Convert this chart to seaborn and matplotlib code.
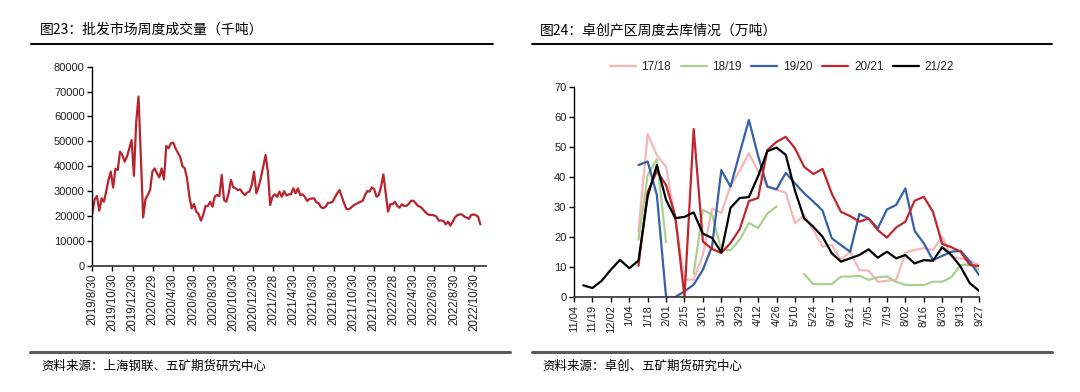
import numpy as np
import pandas as pd
import seaborn as sns
import matplotlib.pyplot as plt
from matplotlib.lines import Line2D

# ---- left chart: weekly wholesale volume (thousand tonnes) ----
start_date = '2019-08-30'
volume = [
    21000, 26700, 28000, 22100, 27100, 25700, 29800, 34500, 37800, 31400,
    38900, 38500, 45800, 44500, 41800, 43800, 47200, 50500, 36100, 57900,
    68000, 44000, 19400, 26700, 28400, 30400, 37800, 39100, 37100, 35500,
    39100, 34700, 48100, 47200, 49200, 49500, 47200, 45400, 43800, 40100,
    39100, 35100, 27800, 23000, 24800, 21700, 20800, 18100, 20400, 24000,
    24000, 25700, 23700, 27800, 28400, 28000, 36500, 26400, 25700, 29100,
    34500, 31500, 31100, 30400, 30700, 29400, 28400, 29400, 29800, 32400,
    37800, 29100, 31800, 35500, 40100, 44500, 37800, 24400, 27700, 28700,
    27700, 29800, 27700, 30000, 28200, 28700, 28700, 31100, 29100, 31100,
    28400, 28700, 27700, 26000, 26800, 27000, 27100, 25500, 25100, 23500,
    23100, 23700, 25300, 25300, 25700, 27500, 29000, 30400, 27700, 25100,
    22800, 22700, 23300, 24200, 24700, 25200, 25700, 26000, 28200, 30000,
    29800, 31500, 30800, 27700, 28400, 31800, 36700, 29100, 21700, 24700,
    24700, 25700, 24100, 23300, 24700, 24000, 24100, 24800, 26100, 26100,
    25100, 24000, 23700, 22800, 21700, 20800, 20400, 20400, 20200, 19700,
    18100, 18200, 18000, 16600, 17700, 16100, 17700, 19400, 20300, 20600,
    20600, 19800, 19300, 18800, 20400, 20600, 20300, 19700, 16600,
]
left_ticks = [
    '2019/8/30', '2019/10/30', '2019/12/30', '2020/2/29', '2020/4/30',
    '2020/6/30', '2020/8/30', '2020/10/30', '2020/12/30', '2021/2/28',
    '2021/4/30', '2021/6/30', '2021/8/30', '2021/10/30', '2021/12/30',
    '2022/2/28', '2022/4/30', '2022/6/30', '2022/8/30', '2022/10/30',
]

# ---- right chart: weekly destocking by season (10k tonnes) ----
week_labels = [
    '11/04', '11/19', '12/02', '1/04', '1/18', '2/01', '2/15', '3/01',
    '3/15', '3/29', '4/12', '4/26', '5/10', '5/24', '6/07', '6/21',
    '7/05', '7/19', '8/02', '8/16', '8/30', '9/13', '9/27',
]
nan = np.nan
s1718 = [nan] * 7 + [22, 54.3, 47.3, 43.4, 26, 5.8, 5.8, 14, 29.5, 28, 37, 42,
                     47.9, 42, 37, 35.7, 34.8, 24.6, 27.3, 22.3, 16.8, 17.3, 12.3,
                     15.1, 9, 8.8, 5.1, 5.4, 5.7, 14.8, 15.7, 16.3, 15.7, 20.1,
                     13.4, 12.9, 12.1, 10.7]
s1819 = [nan] * 7 + [19.1, 40.6, 46, 18.2, nan, nan, 7.8, 29.1, 27.4, 15.8, 15.6,
                     19.1, 24.7, 23, 27.8, 30.2, nan, nan, 7.7, 4.3, 4.3, 4.3, 6.8,
                     6.8, 7.1, 5.7, 6.6, 6.8, 5.1, 4, 4, 4, 5.1, 5.1, 6.6, 10.7,
                     10.7, 9.2]
s1920 = [nan] * 7 + [44, 45.2, 34, 0, 0, 1.9, 4.1, 9.1, 16.9, 42.3, 36.8, 48, 59,
                     47, 36.8, 35.9, 41.4, 37.9, 34.6, 31.8, 28.8, 19.6, 17.3, 15.1,
                     27.7, 26.2, 22.9, 29.2, 30.7, 36.2, 22.1, 17.9, 12.3, 13.7,
                     15.1, 15.4, 11.9, 7.3]
s2021 = [nan] * 7 + [10.4, 35, 42, 37.3, 27, 0, 56, 18.5, 16, 14.7, 18, 22.6, 32,
                     33, 49, 51.7, 53.4, 49.6, 43.4, 41, 42.7, 34.5, 28.4, 27, 25.1,
                     26.2, 22.3, 19.8, 23.2, 25.1, 32.1, 33.4, 28.4, 17.7, 16.6,
                     15.1, 10.7, 10.3]
s2122 = [nan, 3.9, 3.0, 5.4, 9.1, 12.4, 9.6, 12.1, 33.5, 44, 32.4, 26.3, 26.7,
         28.2, 21.1, 19.7, 14.9, 29.7, 33, 33.3, 40.3, 48.6, 49.8, 47.4, 35.5,
         26.2, 23.4, 20.1, 14.6, 11.8, 12.9, 14, 15.9, 13.1, 15.1, 12.9, 14,
         11.2, 12.3, 12.1, 16.6, 14, 10.1, 4.6, 2.1]
season_names = ['17/18', '18/19', '19/20', '20/21', '21/22']
season_colors = ['#F4B6B6', '#A9D18E', '#3561A8', '#C0262E', '#000000']


def draw_segments(ax, y, color, label):
    # draw each unbroken run separately so gaps stay open
    s = pd.Series(y, dtype=float)
    groups = s.isna().cumsum()
    first = True
    for _, seg in s[s.notna()].groupby(groups[s.notna()]):
        sns.lineplot(x=seg.index, y=seg.values, ax=ax, color=color, linewidth=1.6,
                     label=label if first else None, legend=False)
        first = False


sns.set_theme(style='white')
plt.rcParams['font.family'] = ['Liberation Sans', 'Noto Sans CJK SC', 'DejaVu Sans']
cjk = ['Noto Sans CJK SC', 'DejaVu Sans']

fig = plt.figure(figsize=(10.8, 3.92), dpi=100)

# left panel
ax1 = fig.add_axes([0.0855, 0.3222, 0.3642, 0.5077])
dates = pd.date_range(start_date, periods=len(volume), freq='7D')
sns.lineplot(x=dates, y=volume, ax=ax1, color='#B7242C', linewidth=1.6)
ax1.set_ylim(0, 80000)
ax1.set_yticks(range(0, 80001, 10000))
tick_dates = pd.to_datetime(left_ticks, format='%Y/%m/%d')
ax1.set_xticks(tick_dates)
ax1.set_xticklabels(left_ticks, rotation=90)
ax1.set_xlim(pd.Timestamp('2019-08-30'), pd.Timestamp('2022-12-04'))

# right panel
ax2 = fig.add_axes([0.5315, 0.2423, 0.3750, 0.5357])
for y, c, n in zip([s1718, s1819, s1920, s2021, s2122], season_colors, season_names):
    draw_segments(ax2, y, c, n)
ax2.set_ylim(0, 70)
ax2.set_yticks(range(0, 71, 10))
ax2.set_xlim(0, 44)
ax2.set_xticks(range(0, 45, 2))
ax2.set_xticklabels(week_labels, rotation=90)
handles = [Line2D([], [], color=c, linewidth=1.6) for c in season_colors]
fig.legend(handles, season_names, loc='center', bbox_to_anchor=(0.724, 0.829),
           ncol=5, frameon=False, fontsize=8.5, handlelength=2.2,
           handletextpad=0.5, columnspacing=0.8)

for ax in (ax1, ax2):
    for side in ('top', 'right'):
        ax.spines[side].set_visible(False)
    ax.spines['left'].set_color('#000000')
    ax.spines['bottom'].set_color('#404040')
    ax.spines['left'].set_linewidth(1.0)
    ax.spines['bottom'].set_linewidth(1.3)
    ax.tick_params(axis='both', which='major', direction='out', length=3.5,
                   width=1.0, colors='#000000', labelsize=8, left=True, bottom=True,
                   pad=2)
    ax.tick_params(axis='both', labelcolor='#222222')
    ax.set_xlabel('')
    ax.set_ylabel('')
    ax.grid(False)
ax1.tick_params(axis='x', labelsize=8.3)

# headers and footers
fig.text(40 / 1080, 1 - 30 / 392, '图23：批发市场周度成交量（千吨）', family=cjk,
         fontsize=10, va='center', ha='left', color='#000000')
fig.text(540 / 1080, 1 - 30 / 392, '图24：卓创产区周度去库情况（万吨）', family=cjk,
         fontsize=10, va='center', ha='left', color='#000000')
fig.add_artist(Line2D([31 / 1080, 493 / 1080], [1 - 44 / 392] * 2, color='#000000',
                      linewidth=1.4, transform=fig.transFigure))
fig.add_artist(Line2D([532 / 1080, 1052 / 1080], [1 - 44 / 392] * 2, color='#000000',
                      linewidth=1.4, transform=fig.transFigure))
fig.add_artist(Line2D([30 / 1080, 510 / 1080], [1 - 352 / 392] * 2, color='#5A5A5A',
                      linewidth=2.2, transform=fig.transFigure))
fig.add_artist(Line2D([532 / 1080, 1052 / 1080], [1 - 352 / 392] * 2, color='#5A5A5A',
                      linewidth=2.2, transform=fig.transFigure))
fig.text(41 / 1080, 1 - 366 / 392, '资料来源：上海钢联、五矿期货研究中心', family=cjk,
         fontsize=9, va='center', ha='left', color='#000000')
fig.text(542 / 1080, 1 - 366 / 392, '资料来源：卓创、五矿期货研究中心', family=cjk,
         fontsize=9, va='center', ha='left', color='#000000')

fig.savefig('out.png', dpi=100, facecolor='white')
